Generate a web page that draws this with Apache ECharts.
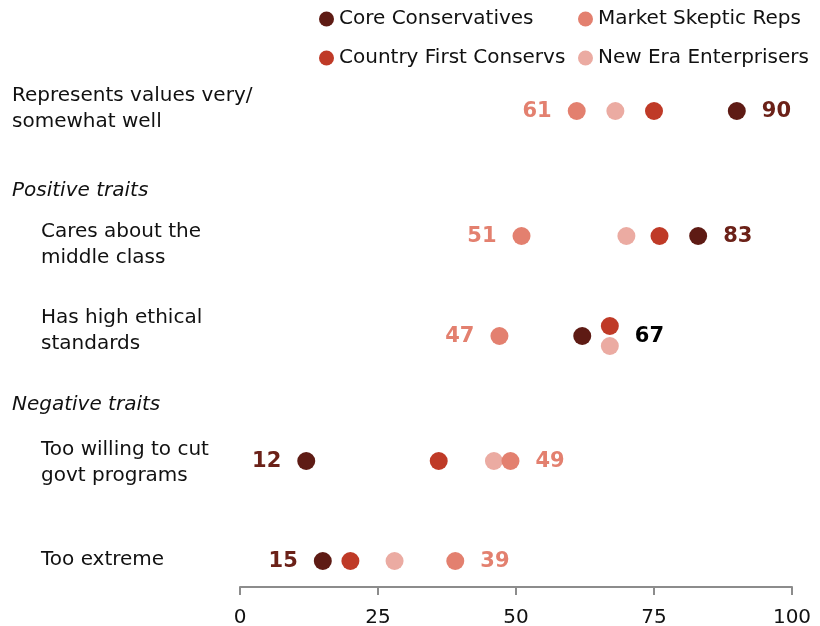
<!DOCTYPE html>
<html>
<head>
<meta charset="utf-8">
<script src="https://cdn.jsdelivr.net/npm/echarts@6/dist/echarts.min.js"></script>
<style>
  html, body { margin: 0; padding: 0; background: #fff; }
  #main { width: 820px; height: 626px; }
</style>
</head>
<body>
<div id="main"></div>
<script>
// 数据
var seriesNames = ['Core Conservatives', 'Country First Conservs', 'New Era Enterprisers', 'Market Skeptic Reps'];
var rowLabels = ['Represents values very/\nsomewhat well', 'Cares about the\nmiddle class', 'Has high ethical\nstandards', 'Too willing to cut\ngovt programs', 'Too extreme'];
var coreVals    = [90, 83, 62, 12, 15];
var countryVals = [75, 76, 67, 36, 20];
var newEraVals  = [68, 70, 67, 46, 28];
var marketVals  = [61, 51, 47, 49, 39];
var xTicks = [0, 25, 50, 75, 100];

// 行的位置（y 轴上的单位，25px 一格）
var rowPos = [4, 9, 13, 18, 22];
var dotColors = ['#5e1b14', '#bf3a27', '#ebaba2', '#e3806f'];
var labelColors = ['#6b2118', '#bf3a27', '#e9a89e', '#e3806f'];

var allVals = [coreVals, countryVals, newEraVals, marketVals];

function buildData(si) {
	var out = [];
	for (var r = 0; r < rowLabels.length; r++) {
		var v = allVals[si][r];
		var rowVals = allVals.map(function (a) { return a[r]; });
		var mn = Math.min.apply(null, rowVals), mx = Math.max.apply(null, rowVals);
		var ties = [];
		rowVals.forEach(function (x, i) { if (x === v) ties.push(i); });
		var item = { value: [v, rowPos[r]] };
		// 数值相同的点上下错开
		var dy = 0;
		if (ties.length > 1) {
			var k = ties.indexOf(si);
			dy = (k - (ties.length - 1) / 2) * 20;
			item.symbolOffset = [0, dy];
		}
		var first = ties[0] === si;
		if ((v === mn || v === mx) && first) {
			item.label = {
				show: true,
				position: v === mn ? 'left' : 'right',
				distance: 16,
				offset: [0, 1 - dy],
				formatter: String(v),
				color: ties.length > 1 ? '#000' : labelColors[si],
				fontFamily: 'DejaVu Sans',
				fontWeight: 'bold',
				fontSize: 21
			};
		}
		out.push(item);
	}
	return out;
}

var chart = echarts.init(document.getElementById('main'));

// 左侧文字
var graphics = [];
var textStyleBase = { fontFamily: 'DejaVu Sans', fontSize: 20, fill: '#111', lineHeight: 26 };
var labelCenters = [109, 245, 331, 463, 560];
var labelLeft = [12, 41, 41, 41, 41];
rowLabels.forEach(function (t, i) {
	graphics.push({
		type: 'text', left: labelLeft[i], top: labelCenters[i] - (t.split('\n').length * 26) / 2,
		style: Object.assign({ text: t }, textStyleBase)
	});
});
graphics.push({ type: 'text', left: 12, top: 178, style: Object.assign({ text: 'Positive traits', fontStyle: 'italic' }, textStyleBase) });
graphics.push({ type: 'text', left: 12, top: 392, style: Object.assign({ text: 'Negative traits', fontStyle: 'italic' }, textStyleBase) });

var legendText = { fontFamily: 'DejaVu Sans', fontSize: 20, color: '#111', lineHeight: 24 };

chart.setOption({
	animation: false,
	color: dotColors,
	graphic: graphics,
	legend: [{
		orient: 'vertical', left: 319, top: 7, itemGap: 15, padding: 0,
		itemWidth: 15, itemHeight: 15, icon: 'circle',
		data: ['Core Conservatives', 'Country First Conservs'],
		textStyle: legendText
	}, {
		orient: 'vertical', left: 578, top: 7, itemGap: 15, padding: 0,
		itemWidth: 15, itemHeight: 15, icon: 'circle',
		data: ['Market Skeptic Reps', 'New Era Enterprisers'],
		textStyle: legendText
	}],
	grid: { left: 240, right: 28, top: 11, bottom: 39, containLabel: false, outerBoundsMode: 'none' },
	xAxis: {
		type: 'value', min: 0, max: 100, interval: 25, position: 'bottom',
		axisLine: { show: true, onZero: false, lineStyle: { color: '#8c8c8c', width: 2 } },
		axisTick: { show: true, length: 8, lineStyle: { color: '#8c8c8c', width: 2 } },
		splitLine: { show: false },
		axisLabel: {
			margin: 21, color: '#111', fontFamily: 'DejaVu Sans', fontSize: 20,
			formatter: function (v) { return xTicks.indexOf(v) >= 0 ? String(v) : ''; }
		}
	},
	yAxis: {
		type: 'value', inverse: true, min: 0, max: 23.04,
		show: false, splitLine: { show: false }
	},
	series: seriesNames.map(function (name, si) {
		return {
			name: name,
			type: 'scatter',
			symbol: 'circle',
			symbolSize: 18,
			itemStyle: { color: dotColors[si], opacity: 1 },
			emphasis: { disabled: true },
			data: buildData(si)
		};
	})
});
</script>
</body>
</html>
